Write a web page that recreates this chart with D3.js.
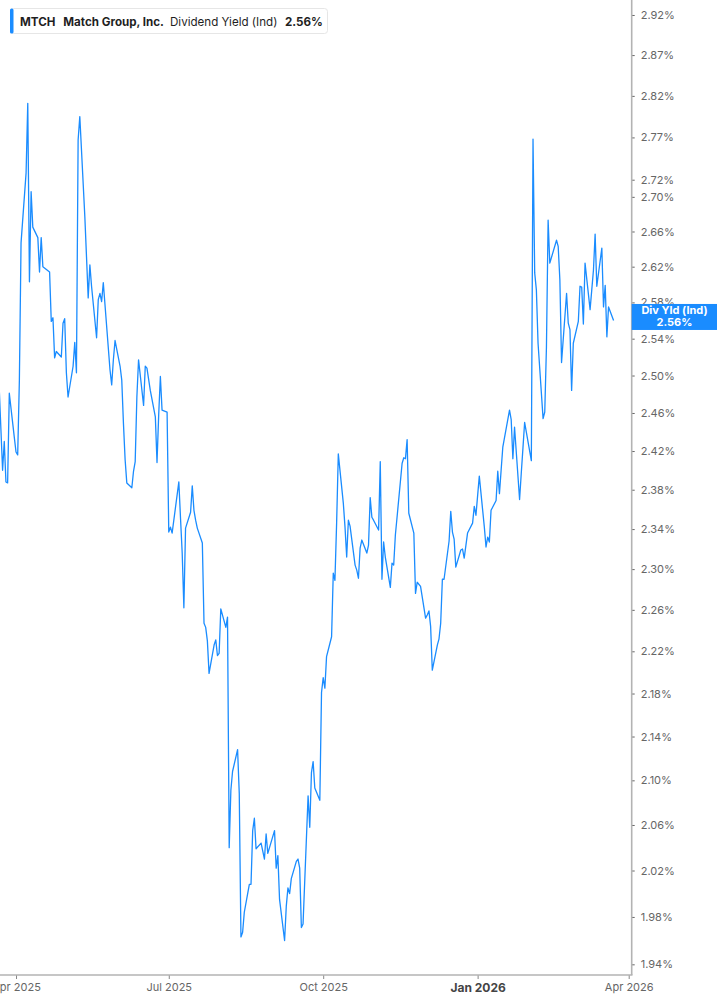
<!DOCTYPE html>
<html><head><meta charset="utf-8">
<script src="https://cdn.jsdelivr.net/npm/d3@7"></script>
<style>
html,body{margin:0;padding:0;background:#fff;}
svg{display:block;font-family:Inter,"Noto Sans",sans-serif;}
</style></head><body>
<svg id="chart" width="717" height="1005"></svg>
<script>
const ticker = "MTCH";
const company = "Match Group, Inc.";
const metric = "Dividend Yield (Ind)";
const lastLabel = "2.56%";
const badgeLabel = "Div Yld (Ind)";
const firstDate = "2025-03-21";
const lastDate = "2026-03-23";
const holidays = ["2025-04-18","2025-05-26","2025-06-19","2025-07-04","2025-09-01","2025-11-27","2025-12-25","2026-01-01","2026-01-19","2026-02-16"];
const yieldValues = [
2.53,
2.400,2.430,2.388,2.387,2.481,2.434,2.419,2.416,2.495,2.647,
2.728,2.811,2.603,2.706,2.665,2.653,2.614,2.653,2.620,2.614,
2.559,2.563,2.519,2.526,2.520,2.557,2.562,2.503,2.477,2.510,
2.536,2.503,2.767,2.795,2.677,2.631,2.585,2.622,2.598,2.541,
2.583,2.590,2.581,2.602,2.506,2.490,2.517,2.538,2.510,2.495,
2.449,2.411,2.387,2.382,2.399,2.409,2.477,2.517,2.468,2.510,
2.508,2.484,2.456,2.408,2.458,2.499,2.463,2.461,
2.337,2.342,2.336,2.388,2.351,2.316,2.262,2.341,2.357,2.384,2.359,2.349,
2.341,2.326,2.247,2.243,2.230,2.199,2.226,2.231,2.216,2.218,
2.261,2.243,2.253,2.040,2.091,2.108,2.128,2.088,1.963,1.967,
1.984,2.008,2.008,2.055,2.066,2.039,2.044,2.037,2.030,2.052,
2.035,2.055,2.022,2.033,1.995,1.960,1.989,2.005,2.000,2.013,
2.028,2.030,2.022,1.971,1.974,2.086,2.058,2.107,2.117,2.093,2.082,
2.181,2.195,2.185,2.215,2.234,2.296,2.289,2.346,2.417,
2.366,2.342,2.312,2.349,2.343,2.304,2.299,2.291,2.321,2.329,
2.316,2.324,2.372,2.352,2.349,2.339,2.409,2.290,2.327,2.312,
2.282,2.306,2.304,2.334,2.352,2.407,2.413,2.412,2.432,2.356,
2.336,2.276,2.287,2.283,2.252,2.255,2.259,2.244,2.202,2.226,
2.232,2.247,2.290,2.290,
2.328,2.358,2.337,2.330,2.302,2.319,2.320,2.311,2.336,2.346,
2.363,2.354,2.394,2.342,2.322,2.332,2.327,2.359,2.369,2.399,
2.376,2.400,2.424,2.463,2.453,2.412,2.445,2.370,2.397,2.423,
2.450,2.440,2.410,2.768,2.613,2.594,2.535,2.454,2.461,2.531,
2.673,2.624,2.650,2.643,2.605,2.514,2.590,2.557,2.550,2.484,
2.535,2.559,2.598,2.597,2.556,2.624,2.572,2.594,2.616,2.657,
2.598,2.641,2.575,2.599,2.542,2.575,2.560
];
const yTicks = [2.92,2.87,2.82,2.77,2.72,2.70,2.66,2.62,2.58,2.54,2.50,2.46,2.42,2.38,2.34,2.30,2.26,2.22,2.18,2.14,2.10,2.06,2.02,1.98,1.94];
const xTicks = ["2025-04-01","2025-07-01","2025-10-01","2026-01-01","2026-04-01"];
const xTickLabels = ["Apr 2025","Jul 2025","Oct 2025","Jan 2026","Apr 2026"];
const xBoldTick = "Jan 2026";
const xDomain = ["2025-03-22T11:00","2026-04-02T19:00"];
const yDomain = [1.9311, 2.9389];

const lineColor = "#1a8cff";
const W = 631.7, H = 975;
const parseDay = d3.timeParse("%Y-%m-%d");
const parseDT = d3.timeParse("%Y-%m-%dT%H:%M");

// trading calendar (weekdays minus listed market holidays)
const holidaySet = new Set(holidays);
const fmt = d3.timeFormat("%Y-%m-%d");
const dates = d3.timeDay.range(parseDay(firstDate), d3.timeDay.offset(parseDay(lastDate),1))
  .filter(d => d.getDay() !== 0 && d.getDay() !== 6 && !holidaySet.has(fmt(d)));
const data = yieldValues.map((v,i) => ({date: dates[i], v}));

const svg = d3.select("#chart");
const x = d3.scaleTime().domain(xDomain.map(parseDT)).range([0, W]);
const y = d3.scaleLog().domain(yDomain).range([H, 0]);

svg.append("defs").append("clipPath").attr("id","plot")
  .append("rect").attr("x",0).attr("y",0).attr("width",W).attr("height",H);

svg.append("path")
  .datum(data.filter(d => d.date))
  .attr("clip-path","url(#plot)")
  .attr("fill","none")
  .attr("stroke",lineColor)
  .attr("stroke-width",1.3)
  .attr("stroke-linejoin","round")
  .attr("d", d3.line().x(d => x(d.date)).y(d => y(d.v)));

// Y axis (right)
const yAxis = svg.append("g").attr("transform",`translate(${W},0)`)
  .call(d3.axisRight(y).tickValues(yTicks).tickFormat(d => d.toFixed(2) + "%").tickSize(3).tickPadding(6));
yAxis.select(".domain").remove();
yAxis.selectAll("line").attr("stroke","#666").attr("stroke-width",1);
yAxis.selectAll("text").attr("fill","#666").attr("font-size",11).attr("font-family","Inter,'Noto Sans',sans-serif");

// X axis (bottom)
const xAxis = svg.append("g").attr("transform",`translate(0,${H})`)
  .call(d3.axisBottom(x).tickValues(xTicks.map(parseDay)).tickFormat((d,i) => xTickLabels[i]).tickSize(4).tickPadding(4));
xAxis.select(".domain").remove();
xAxis.selectAll("line").attr("stroke","#888");
xAxis.selectAll("text").attr("fill","#666").attr("font-size",11).attr("font-family","Inter,'Noto Sans',sans-serif")
  .filter((d,i) => xTickLabels[i] === xBoldTick).attr("font-weight",700).attr("fill","#444").attr("font-size",12);

// frame lines
svg.append("line").attr("x1",0).attr("x2",W+0.8).attr("y1",H).attr("y2",H).attr("stroke","#b3b3b3").attr("stroke-width",1.6);
svg.append("line").attr("x1",W).attr("x2",W).attr("y1",0).attr("y2",H).attr("stroke","#b3b3b3").attr("stroke-width",1.6);

// last value badge
const last = data[data.length-1];
const by = y(last.v) - 16.5;
const badge = svg.append("g");
badge.append("rect").attr("x",W).attr("y",by).attr("width",717-W).attr("height",26).attr("fill",lineColor);
badge.append("text").attr("x",674.5).attr("y",by+10.5).attr("text-anchor","middle").attr("fill","#fff")
  .attr("font-size",11).attr("font-weight",700).text(badgeLabel);
badge.append("text").attr("x",674.5).attr("y",by+22).attr("text-anchor","middle").attr("fill","#fff")
  .attr("font-size",11).attr("font-weight",700).text(lastLabel);

// legend
const lg = svg.append("g");
lg.append("rect").attr("x",10.5).attr("y",8.5).attr("width",317).attr("height",25).attr("rx",3)
  .attr("fill","#fff").attr("stroke","#e6e6e6");
lg.append("rect").attr("x",10).attr("y",8.5).attr("width",3.5).attr("height",25).attr("rx",1.5).attr("fill",lineColor);
const lt = [[ticker,20,700],[company,63.3,700],[metric,170,400],[lastLabel,285,700]];
lg.selectAll("text.lg").data(lt).enter().append("text").attr("class","lg")
  .attr("x",d => d[1]).attr("y",25.5).attr("font-size",11.6).attr("font-weight",d => d[2])
  .attr("fill","#1f1f1f").text(d => d[0]);
</script>
</body></html>
